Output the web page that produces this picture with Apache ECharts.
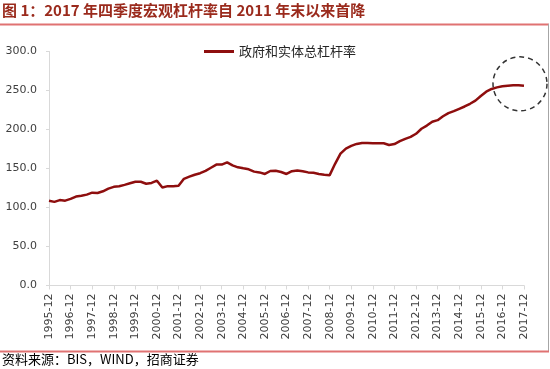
<!DOCTYPE html>
<html>
<head>
<meta charset="utf-8">
<script src="https://cdn.jsdelivr.net/npm/echarts@6/dist/echarts.min.js"></script>
<style>
html,body{margin:0;padding:0;background:#fff;}
#c{width:550px;height:369px;}
</style>
</head>
<body>
<div id="c"></div>
<script>
// ---- data ----
var titleText = '图 1：2017 年四季度宏观杠杆率自 2011 年末以来首降';
var sourceText = '资料来源：BIS，WIND，招商证券';
var seriesName = '政府和实体总杠杆率';
var yTicks = [0, 50, 100, 150, 200, 250, 300];

var categories = [];
(function(){
  var months = ['03','06','09','12'];
  categories.push('1995-12');
  for (var y = 1996; y <= 2017; y++) {
    for (var m = 0; m < 4; m++) categories.push(y + '-' + months[m]);
  }
})();

var leverage = [
  108.7, 107.2, 109.5, 108.8, 111.0, 114.0, 115.0, 116.5, 119.0, 118.6,
  120.8, 124.2, 126.5, 127.2, 129.0, 131.0, 133.0, 133.0, 130.5, 131.5,
  134.4, 125.6, 127.4, 127.4, 127.8, 136.8, 139.5, 142.0, 144.0, 147.0,
  151.0, 155.0, 155.0, 157.8, 154.0, 151.5, 150.2, 149.0, 146.0, 145.0,
  143.0, 146.8, 147.0, 145.5, 143.0, 146.5, 147.5, 146.5, 145.0, 144.5,
  143.0, 142.0, 141.5, 156.0, 169.0, 175.5, 179.0, 181.5, 182.8, 182.8,
  182.3, 182.5, 182.3, 180.2, 181.3, 185.0, 188.0, 190.5, 194.5, 201.0,
  205.0, 210.0, 212.0, 217.0, 221.0, 223.5, 226.5, 229.5, 233.0, 237.0,
  243.0, 248.5, 252.0, 254.0, 255.5, 256.2, 256.6, 256.6, 256.0
];

var chart = echarts.init(document.getElementById('c'), null, {renderer: 'canvas'});
var last = leverage.length - 1;

chart.setOption({
  animation: false,
  backgroundColor: '#fff',
  grid: {left: 49, right: 26, top: 51.5, bottom: 83.5},
  legend: {
    left: 199, top: 40,
    icon: 'rect', itemWidth: 30, itemHeight: 3,
    textStyle: {fontFamily: 'Noto Sans CJK SC', fontSize: 13, color: '#262626'},
    data: [seriesName]
  },
  xAxis: {
    type: 'category',
    data: categories,
    boundaryGap: false,
    axisLine: {lineStyle: {color: '#D9D9D9', width: 1}},
    axisTick: {show: true, interval: 3, length: 4, lineStyle: {color: '#D9D9D9'}},
    axisLabel: {interval: 3, rotate: 90, margin: 8, fontFamily: 'DejaVu Sans', fontSize: 11, color: '#404040'},
    splitLine: {show: false}
  },
  yAxis: {
    type: 'value',
    min: yTicks[0], max: yTicks[yTicks.length - 1], interval: 50,
    axisLine: {show: true, lineStyle: {color: '#D9D9D9', width: 1}},
    axisTick: {show: true, length: 3, lineStyle: {color: '#D9D9D9'}},
    axisLabel: {margin: 12, fontFamily: 'DejaVu Sans', fontSize: 11, color: '#404040',
      formatter: function(v){ return v.toFixed(1); }},
    splitLine: {show: false}
  },
  series: [{
    name: seriesName,
    type: 'line',
    data: leverage,
    showSymbol: false,
    symbol: 'none',
    lineStyle: {color: '#8E0E0E', width: 2.5},
    itemStyle: {color: '#8E0E0E'},
    markPoint: {
      silent: true,
      symbol: 'circle',
      symbolSize: 54,
      symbolOffset: [-4, -2],
      itemStyle: {color: 'rgba(0,0,0,0)', borderColor: '#333', borderWidth: 1.5, borderType: [5, 4]},
      label: {show: false},
      data: [{coord: [categories[last], leverage[last]]}]
    }
  }],
  graphic: [
    {type: 'text', left: 2, top: 3, style: {text: titleText, fill: '#9A2A1C', font: 'bold 15px "Noto Sans CJK SC"'}},
    {type: 'line', shape: {x1: 0, y1: 24.5, x2: 549, y2: 24.5}, style: {stroke: '#E07272', lineWidth: 2}},
    {type: 'line', shape: {x1: 548.5, y1: 24, x2: 548.5, y2: 351}, style: {stroke: '#A6A6A6', lineWidth: 1}},
    {type: 'line', shape: {x1: 0, y1: 351.5, x2: 549, y2: 351.5}, style: {stroke: '#E07272', lineWidth: 2}},
    {type: 'text', left: 2, top: 353, style: {text: sourceText, fill: '#000', font: '13px "Noto Sans CJK SC"'}}
  ]
});
</script>
</body>
</html>
